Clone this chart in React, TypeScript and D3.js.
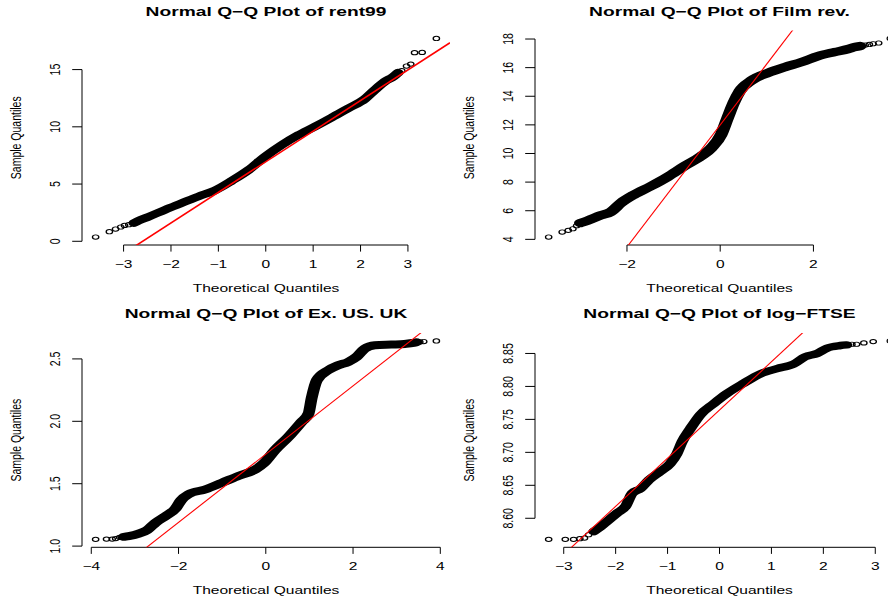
import * as d3 from "d3";

// the original picture is stretched sideways, so text and circles are too
const SX = 1.48;

// rent99
const rentTailX = [-3.59, -3.3, -3.17, -3.06, -2.98, -2.89, -2.78, 2.79, 2.87, 2.97, 3.06, 3.14, 3.3, 3.6];
const rentTailY = [0.37, 0.84, 1.07, 1.25, 1.39, 1.45, 1.6, 14.73, 14.91, 15.31, 15.48, 16.48, 16.5, 17.72];
const rentBodyX = [-2.78, -2.68, -2.47, -2.12, -1.77, -1.42, -1.07, -0.72, -0.36, -0.01, 0.34, 0.69, 1.04, 1.39, 1.74, 2.09, 2.3, 2.51, 2.69, 2.79];
const rentBodyY = [1.6, 1.8, 2.15, 2.76, 3.34, 3.92, 4.45, 5.28, 6.24, 7.41, 8.42, 9.29, 10.03, 10.81, 11.62, 12.43, 13.22, 13.95, 14.38, 14.73];
const rentTicksX = [-3, -2, -1, 0, 1, 2, 3];
const rentTicksY = [0, 5, 10, 15];
const rentLine = [6.95, 2.675]; // intercept, slope

// Film rev.
const filmTailX = [-3.68, -3.39, -3.26, -3.16, -3.08, -3.0, 3.0, 3.11, 3.2, 3.28, 3.4, 3.65];
const filmTailY = [4.16, 4.51, 4.63, 4.74, 4.95, 5.14, 17.51, 17.58, 17.62, 17.67, 17.72, 18.04];
const filmBodyX = [-3.0, -2.85, -2.56, -2.35, -2.13, -1.85, -1.49, -1.13, -0.77, -0.41, -0.19, 0.02, 0.16, 0.29, 0.42, 0.67, 1.03, 1.39, 1.75, 2.1, 2.46, 2.75, 2.89, 3.0];
const filmBodyY = [5.14, 5.3, 5.68, 5.91, 6.54, 7.12, 7.71, 8.36, 9.11, 9.81, 10.39, 11.32, 12.49, 13.54, 14.36, 15.1, 15.64, 16.04, 16.39, 16.81, 17.09, 17.3, 17.44, 17.51];
const filmTicksX = [-2, 0, 2];
const filmTicksY = [4, 6, 8, 10, 12, 14, 16, 18];
const filmLine = [11.995, 4.264];

// Ex. US. UK
const exTailX = [-3.9, -3.65, -3.52, -3.44, -3.35, -3.25, 3.45, 3.53, 3.62, 3.91];
const exTailY = [1.054, 1.056, 1.056, 1.06, 1.07, 1.074, 2.634, 2.636, 2.639, 2.644];
const exBodyX = [-3.25, -3.14, -2.91, -2.72, -2.53, -2.3, -2.07, -1.94, -1.77, -1.39, -1.01, -0.62, -0.24, -0.05, 0.21, 0.52, 0.82, 0.98, 1.05, 1.17, 1.43, 1.66, 1.89, 2.08, 2.27, 2.5, 2.88, 3.18, 3.38, 3.45];
const exBodyY = [1.074, 1.08, 1.1, 1.128, 1.187, 1.24, 1.3, 1.368, 1.416, 1.454, 1.507, 1.563, 1.614, 1.662, 1.769, 1.875, 1.995, 2.062, 2.183, 2.329, 2.409, 2.449, 2.476, 2.516, 2.583, 2.609, 2.615, 2.62, 2.628, 2.634];
const exTicksX = [-4, -2, 0, 2, 4];
const exTicksY = [1.0, 1.5, 2.0, 2.5];
const exLine = [1.737, 0.2735];

// log-FTSE
const ftseTailX = [-3.29, -2.97, -2.81, -2.69, -2.6, -2.52, -2.42, 2.45, 2.55, 2.64, 2.78, 2.96, 3.29];
const ftseTailY = [8.568, 8.568, 8.568, 8.569, 8.57, 8.575, 8.58, 8.863, 8.864, 8.864, 8.866, 8.868, 8.869];
const ftseBodyX = [-2.42, -2.29, -2.17, -1.97, -1.81, -1.68, -1.52, -1.36, -1.14, -0.95, -0.82, -0.72, -0.56, -0.37, -0.11, 0.14, 0.47, 0.79, 1.11, 1.43, 1.65, 1.88, 2.07, 2.33, 2.45];
const ftseBodyY = [8.58, 8.587, 8.595, 8.608, 8.618, 8.638, 8.645, 8.658, 8.671, 8.683, 8.698, 8.716, 8.736, 8.757, 8.774, 8.789, 8.805, 8.819, 8.827, 8.834, 8.845, 8.85, 8.858, 8.862, 8.863];
const ftseTicksX = [-3, -2, -1, 0, 1, 2, 3];
const ftseTicksY = [8.6, 8.65, 8.7, 8.75, 8.8, 8.85];
const ftseLine = [8.7643, 0.0731];

// plot regions of the 2x2 layout
const COLS = [[82, 450], [535, 904]];
const ROWS = [[30.5, 245], [333, 547.3]];
const FONT = "'Liberation Sans', Arial, Helvetica, sans-serif";

const panels = [
  { id: "p1", title: "Normal Q\u2212Q Plot of rent99", tailX: rentTailX, tailY: rentTailY, bodyX: rentBodyX, bodyY: rentBodyY, ticksX: rentTicksX, ticksY: rentTicksY, fmtY: d3.format("d"), line: rentLine, col: 0, row: 0, lw: 1.6, bw: 7.5 },
  { id: "p2", title: "Normal Q\u2212Q Plot of Film rev.", tailX: filmTailX, tailY: filmTailY, bodyX: filmBodyX, bodyY: filmBodyY, ticksX: filmTicksX, ticksY: filmTicksY, fmtY: d3.format("d"), line: filmLine, col: 1, row: 0, lw: 1.1, bw: 8.5 },
  { id: "p3", title: "Normal Q\u2212Q Plot of Ex. US. UK", tailX: exTailX, tailY: exTailY, bodyX: exBodyX, bodyY: exBodyY, ticksX: exTicksX, ticksY: exTicksY, fmtY: d3.format(".1f"), line: exLine, col: 0, row: 1, lw: 1.1, bw: 8 },
  { id: "p4", title: "Normal Q\u2212Q Plot of log\u2212FTSE", tailX: ftseTailX, tailY: ftseTailY, bodyX: ftseBodyX, bodyY: ftseBodyY, ticksX: ftseTicksX, ticksY: ftseTicksY, fmtY: d3.format(".2f"), line: ftseLine, col: 1, row: 1, lw: 1.1, bw: 7.5 },
];

// R style: data range plus 4% each side
function padded(vals: number[]): [number, number] {
  const [a, b] = d3.extent(vals) as [number, number];
  const r = b - a;
  return [a - 0.04 * r, b + 0.04 * r];
}

const minus = (v: number) => String(v).replace("-", "\u2212");

function SText({ x, y, rot, size, bold, children }: any) {
  return (
    <text
      transform={`translate(${x},${y}) scale(${SX},1)${rot ? " rotate(-90)" : ""}`}
      textAnchor="middle"
      fontSize={size}
      fontWeight={bold ? "bold" : "normal"}
      fontFamily={FONT}
      fill="#000"
    >
      {children}
    </text>
  );
}

function QQPanel({ p }: any) {
  const [L, R] = COLS[p.col];
  const [T, B] = ROWS[p.row];
  const allX = [...p.tailX, ...p.bodyX];
  const allY = [...p.tailY, ...p.bodyY];
  const x = d3.scaleLinear().domain(padded(allX)).range([L, R]);
  const y = d3.scaleLinear().domain(padded(allY)).range([B, T]);

  // thick band where thousands of circles overlap, drawn in unstretched space
  const band = d3
    .line<number>()
    .x((_, i) => x(p.bodyX[i]) / SX)
    .y((_, i) => y(p.bodyY[i]))
    .curve(d3.curveMonotoneX)(p.bodyX);

  const [a, b] = p.line;
  const xd = x.domain();
  const cx = (L + R) / 2;
  const tx = p.ticksX;
  const ty = p.ticksY;

  return (
    <g>
      <defs>
        <clipPath id={`clip-${p.id}`}>
          <rect x={L} y={T} width={R - L} height={B - T} />
        </clipPath>
      </defs>

      <SText x={cx} y={T - 15} size={13} bold>{p.title}</SText>

      {/* x axis */}
      <line x1={x(tx[0])} x2={x(tx[tx.length - 1])} y1={B} y2={B} stroke="#000" strokeWidth={1} />
      {tx.map((t: number) => (
        <g key={`x${t}`}>
          <line x1={x(t)} x2={x(t)} y1={B} y2={B + 6.6} stroke="#000" strokeWidth={1} />
          <SText x={x(t)} y={B + 22.7} size={10.5}>{minus(t)}</SText>
        </g>
      ))}
      <SText x={cx} y={B + 46.5} size={10.5}>Theoretical Quantiles</SText>

      {/* y axis */}
      <line x1={L} x2={L} y1={y(ty[0])} y2={y(ty[ty.length - 1])} stroke="#000" strokeWidth={1} />
      {ty.map((t: number) => (
        <g key={`y${t}`}>
          <line x1={L} x2={L - 9.8} y1={y(t)} y2={y(t)} stroke="#000" strokeWidth={1} />
          <SText x={L - 22} y={y(t)} rot size={10.5}>{p.fmtY(t)}</SText>
        </g>
      ))}
      <SText x={L - 61} y={(T + B) / 2} rot size={10.5}>Sample Quantiles</SText>

      {/* points */}
      <g transform={`scale(${SX},1)`}>
        <path d={band || ""} fill="none" stroke="#000" strokeWidth={p.bw} strokeLinecap="round" strokeLinejoin="round" />
        {allX.map((v: number, i: number) => (
          <circle key={i} cx={x(v) / SX} cy={y(allY[i])} r={2.15} fill="none" stroke="#000" strokeWidth={0.9} />
        ))}
      </g>

      {/* qqline */}
      <line
        clipPath={`url(#clip-${p.id})`}
        x1={x(xd[0])}
        y1={y(a + b * xd[0])}
        x2={x(xd[1])}
        y2={y(a + b * xd[1])}
        stroke="#ff0000"
        strokeWidth={p.lw}
      />
    </g>
  );
}

export default function App() {
  return (
    <svg
      width={888}
      height={604}
      style={{ position: "absolute", left: 0, top: 0, background: "#fff" }}
    >
      <rect width={888} height={604} fill="#fff" />
      {panels.map((p) => (
        <QQPanel key={p.id} p={p} />
      ))}
    </svg>
  );
}
